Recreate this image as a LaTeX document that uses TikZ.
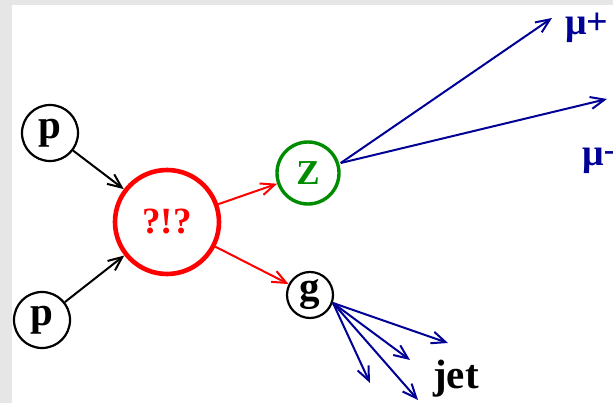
\documentclass[tikz,border=0pt]{standalone}
\usepackage{fontspec}
\setmainfont{Liberation Serif}
\usetikzlibrary{arrows.meta}
\definecolor{navy}{RGB}{0,0,150}
\definecolor{zgreen}{RGB}{0,140,0}
\definecolor{framegray}{RGB}{230,230,230}
\tikzset{
  big/.style={font=\fontsize{41}{41}\selectfont\bfseries},
  part/.style={circle, draw, line width=2.2pt, inner sep=0pt, big},
  arr/.style={line width=2pt, -{Straight Barb[length=14pt,width=12pt,line width=2pt]}},
  lab/.style={big, inner sep=0pt, anchor=base west},
}
\begin{document}
\begin{tikzpicture}[x=1pt,y=-1pt]
\useasboundingbox (0,0) rectangle (613,403);
\fill[framegray] (0,0) rectangle (613,403);
\fill[white] (12,5) rectangle (613,403);
\node[part, minimum size=56pt] (p1) at (50,133) {p};
\node[part, minimum size=56pt] (p2) at (42,320) {p};
\node[part, draw=red, text=red, line width=4.6pt, minimum size=104pt, font=\fontsize{37}{37}\selectfont\bfseries] (x) at (167,222) {?!?};
\node[part, draw=zgreen, text=zgreen, line width=3.4pt, minimum size=62pt, font=\fontsize{35}{35}\selectfont\bfseries] (z) at (308,173) {Z};
\node[part, minimum size=46pt] (g) at (310,295) {g};
\coordinate (mp) at (552,18);
\coordinate (mm) at (607,99);
\coordinate (j1) at (448,343);
\coordinate (j2) at (410,360);
\coordinate (j3) at (370,383);
\coordinate (j4) at (418,400);
\draw[arr] (p1) -- (x);
\draw[arr] (p2) -- (x);
\draw[arr, red] (x) -- (z);
\draw[arr, red] (x) -- (g);
\draw[arr, navy] (z.east) ++(0,-10) coordinate (zs) -- (mp);
\draw[arr, navy] (zs) -- (mm);
\coordinate (gs) at (333,303);
\foreach \t in {j1,j2,j3,j4} \draw[arr, navy] (gs) -- (\t);
\node[lab, navy, font=\fontsize{38}{38}\selectfont\bfseries] (lmp) at (565,35) {μ+};
\node[lab, navy, font=\fontsize{38}{38}\selectfont\bfseries] (lmm) at (582,166) {μ−};
\node[lab] (jet) at (433,388) {jet};
\end{tikzpicture}
\end{document}
